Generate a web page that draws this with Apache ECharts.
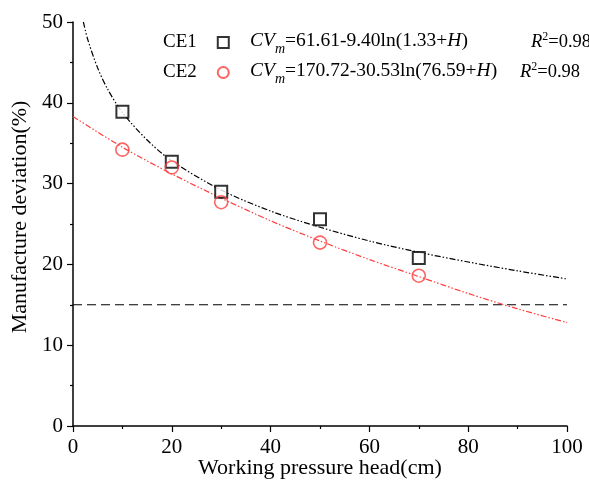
<!DOCTYPE html>
<html>
<head>
<meta charset="utf-8">
<script src="https://cdn.jsdelivr.net/npm/echarts@6/dist/echarts.min.js"></script>
<style>
html,body{margin:0;padding:0;background:#fff;}
#c{width:589px;height:481px;}
</style>
</head>
<body>
<div id="c"></div>
<script>
// Measured points
var xPoints = [10, 20, 30, 50, 70];
var ce1Values = [38.9, 32.7, 29.0, 25.6, 20.8];
var ce2Values = [34.2, 32.0, 27.7, 22.7, 18.6];
// Fitted curves
var fit1X = [2.1, 3, 5, 7, 10, 15, 20, 30, 40, 50, 60, 70, 80, 90, 100];
var fit1Y = [50.0, 47.8, 44.3, 41.7, 38.8, 35.4, 32.8, 29.2, 26.6, 24.6, 22.9, 21.5, 20.3, 19.2, 18.2];
var fit2X = [0, 10, 20, 30, 40, 50, 60, 70, 80, 90, 100];
var fit2Y = [38.3, 34.5, 31.2, 28.2, 25.4, 22.9, 20.6, 18.5, 16.4, 14.5, 12.8];
// Threshold line
var thresholdX = [0, 100];
var thresholdY = [15, 15];
var xTicks = [0, 20, 40, 60, 80, 100];
var yTicks = [0, 10, 20, 30, 40, 50];

function pairs(xs, ys){ return xs.map(function(x,i){ return [x, ys[i]]; }); }

var FONT = 'Liberation Serif';
var RED = '#ff3d3d';
var FS = 19.5;
function formulaRich(){
  return {
    i: {fontFamily: FONT, fontSize: FS, fontStyle: 'italic', fill: '#000', lineHeight: 24, verticalAlign: 'bottom'},
    s: {fontFamily: FONT, fontSize: 14, fontStyle: 'italic', fill: '#000', lineHeight: 24, verticalAlign: 'bottom', padding: [0,0,-5,0]},
    n: {fontFamily: FONT, fontSize: FS, fill: '#000', lineHeight: 24, verticalAlign: 'bottom'}
  };
}
function r2Rich(){
  return {
    i: {fontFamily: FONT, fontSize: 18.5, fontStyle: 'italic', fill: '#000', lineHeight: 24, verticalAlign: 'bottom'},
    p: {fontFamily: FONT, fontSize: 12, fill: '#000', lineHeight: 24, verticalAlign: 'top', padding: [3,0,0,0]},
    n: {fontFamily: FONT, fontSize: 18.5, fill: '#000', lineHeight: 24, verticalAlign: 'bottom'}
  };
}
var chart = echarts.init(document.getElementById('c'), null, {renderer:'canvas'});
chart.setOption({
  backgroundColor: '#fff',
  animation: false,
  grid: {left: 73, right: 22, top: 22, bottom: 55, containLabel: false, outerBoundsMode: 'none'},
  xAxis: {
    type: 'value', min: xTicks[0], max: xTicks[xTicks.length-1], interval: 20,
    name: 'Working pressure head(cm)', nameLocation: 'middle', nameGap: 31, nameMoveOverlap: false,
    nameTextStyle: {fontFamily: FONT, fontSize: 22, color: '#000'},
    axisLine: {lineStyle: {color: '#000', width: 1.5}},
    axisTick: {show: true, inside: false, length: 6, lineStyle: {color: '#000', width: 1.2}},
    minorTick: {show: true, splitNumber: 2, length: 3, lineStyle: {color: '#000', width: 1.2}},
    splitLine: {show: false},
    axisLabel: {fontFamily: FONT, fontSize: 21, color: '#000', margin: 11}
  },
  yAxis: {
    type: 'value', min: yTicks[0], max: yTicks[yTicks.length-1], interval: 10,
    name: 'Manufacture deviation(%)', nameLocation: 'middle', nameGap: 42, nameRotate: 90, nameMoveOverlap: false,
    nameTextStyle: {fontFamily: FONT, fontSize: 22, color: '#000', padding: [0, 0, 0, 14]},
    axisLine: {show: true, lineStyle: {color: '#000', width: 1.5}},
    axisTick: {show: true, inside: false, length: 6, lineStyle: {color: '#000', width: 1.2}},
    minorTick: {show: true, splitNumber: 2, length: 3, lineStyle: {color: '#000', width: 1.2}},
    splitLine: {show: false},
    axisLabel: {fontFamily: FONT, fontSize: 21, color: '#000', margin: 10}
  },
  legend: {
    show: true, orient: 'vertical', left: 163, top: 33, align: 'right', padding: 0,
    itemGap: 11, itemWidth: 11, itemHeight: 11,
    data: ['CE1', 'CE2'],
    textStyle: {fontFamily: FONT, fontSize: 19, color: '#000', lineHeight: 19, padding: [0, 16, 0, 0]}
  },
  graphic: [
    {type: 'text', left: 250, top: 31, style: {
      text: '{i|CV}{s|m}{n|=61.61-9.40ln(1.33+}{i|H}{n|)}', rich: formulaRich()
    }},
    {type: 'text', left: 250, top: 61, style: {
      text: '{i|CV}{s|m}{n|=170.72-30.53ln(76.59+}{i|H}{n|)}', rich: formulaRich()
    }},
    {type: 'text', left: 531, top: 28, style: {
      text: '{i|R}{p|2}{n|=0.98}', rich: r2Rich()
    }},
    {type: 'text', left: 520, top: 58, style: {
      text: '{i|R}{p|2}{n|=0.98}', rich: r2Rich()
    }}
  ],
  series: [
    {name: 'threshold', type: 'line', data: pairs(thresholdX, thresholdY), symbol: 'none',
     lineStyle: {color: '#000', width: 1.1, type: [9, 5]}, silent: true, z: 1},
    {name: 'fit1', type: 'line', data: pairs(fit1X, fit1Y), smooth: 0.3, symbol: 'none',
     lineStyle: {color: '#000', width: 1.2, type: [6, 2, 1.5, 2, 1.5, 2]}, silent: true, z: 2},
    {name: 'fit2', type: 'line', data: pairs(fit2X, fit2Y), smooth: 0.3, symbol: 'none',
     lineStyle: {color: RED, width: 1.2, type: [6, 2, 1.5, 2, 1.5, 2]}, silent: true, z: 2},
    {name: 'CE1', type: 'scatter', data: pairs(xPoints, ce1Values), symbol: 'rect', symbolSize: 12,
     itemStyle: {color: '#fff', borderColor: '#000', borderWidth: 2}, z: 3},
    {name: 'CE2', type: 'scatter', data: pairs(xPoints, ce2Values), symbol: 'circle', symbolSize: 13,
     itemStyle: {color: 'rgba(255,255,255,0)', borderColor: RED, borderWidth: 1.6}, z: 4}
  ]
});
</script>
</body>
</html>
